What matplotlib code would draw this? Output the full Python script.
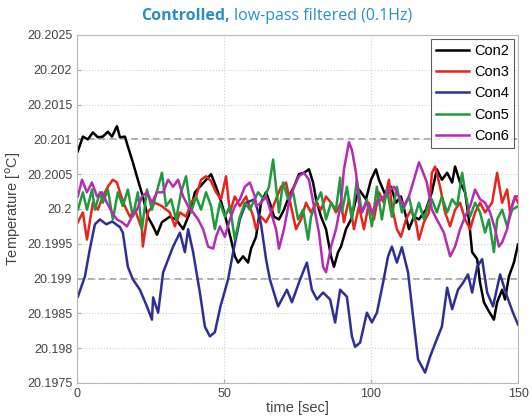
import matplotlib
matplotlib.use("Agg")
import matplotlib.pyplot as plt

# time axis in seconds, temperatures in deg C
con2_t = [0.3, 2.0, 3.7, 5.4, 7.1, 8.8, 10.5, 11.9, 13.6, 14.6, 16.3, 17.3, 19.0, 20.7, 22.4,
          24.1, 25.9, 27.2, 28.9, 31.6, 33.7, 36.1, 38.4, 40.1, 41.8, 43.5, 45.6, 47.3, 49.0,
          50.7, 52.4, 53.7, 54.8, 56.5, 58.2, 59.2, 60.9, 62.6, 64.3, 66.0, 67.0, 68.7, 70.4,
          72.1, 73.8, 75.5, 77.2, 78.9, 80.3, 81.3, 83.0, 84.7, 86.4, 87.4, 88.8, 89.8, 91.5,
          93.2, 94.9, 95.9, 98.3, 100.0, 101.7, 102.7, 105.1, 106.8, 108.5, 110.2, 111.9,
          112.9, 114.6, 116.3, 118.7, 120.7, 122.4, 124.1, 125.9, 127.6, 128.6, 130.3, 132.0,
          133.3, 134.4, 136.1, 137.1, 138.4, 140.1, 141.8, 142.9, 144.6, 145.6, 146.9, 148.6,
          150.0]
con2_v = [20.20083, 20.20104, 20.20100, 20.20110, 20.20103, 20.20104, 20.20111, 20.20104,
          20.20119, 20.20103, 20.20104, 20.20090, 20.20067, 20.20042, 20.20018, 20.19989,
          20.19975, 20.19963, 20.19981, 20.19989, 20.19985, 20.19971, 20.19995, 20.20024,
          20.20032, 20.20040, 20.20050, 20.20032, 20.20011, 20.19985, 20.19956, 20.19932,
          20.19923, 20.19932, 20.19923, 20.19943, 20.19960, 20.20009, 20.20024, 20.20004,
          20.19989, 20.19985, 20.19999, 20.20018, 20.20032, 20.20050, 20.20052, 20.20057,
          20.20038, 20.20014, 20.19989, 20.19971, 20.19932, 20.19917, 20.19938, 20.19946,
          20.19971, 20.19985, 20.20014, 20.20028, 20.20014, 20.20042, 20.20057, 20.20042,
          20.20018, 20.20032, 20.20009, 20.20018, 20.19989, 20.19971, 20.19989, 20.19985,
          20.19999, 20.20024, 20.20057, 20.20042, 20.20052, 20.20038, 20.20061, 20.20038,
          20.20024, 20.19985, 20.19938, 20.19928, 20.19894, 20.19866, 20.19853, 20.19841,
          20.19866, 20.19884, 20.19870, 20.19903, 20.19923, 20.19949]

con3_t = [0.3, 2.0, 3.4, 5.4, 7.1, 8.8, 10.5, 12.2, 13.6, 14.6, 16.3, 18.0, 19.7, 22.1, 22.4,
          24.1, 26.5, 28.9, 31.6, 33.3, 35.0, 37.1, 38.8, 40.5, 42.2, 43.9, 45.6, 47.3, 49.0,
          50.7, 52.0, 53.7, 55.4, 57.5, 59.9, 60.9, 62.6, 64.3, 66.0, 67.7, 69.4, 71.1, 72.8,
          74.5, 76.2, 77.9, 79.6, 81.3, 83.0, 84.7, 86.4, 88.1, 89.8, 90.8, 92.5, 94.2, 95.9,
          97.6, 99.3, 101.0, 102.7, 104.4, 106.1, 107.1, 108.8, 110.2, 111.9, 113.6, 115.3,
          116.3, 118.0, 119.7, 120.7, 121.8, 123.5, 125.2, 126.9, 128.6, 130.3, 132.0, 133.7,
          135.4, 137.1, 138.8, 141.2, 142.9, 144.6, 146.3, 147.3, 149.0, 150.0]
con3_v = [20.19981, 20.19995, 20.19956, 20.20009, 20.19999, 20.20018, 20.20032, 20.20042,
          20.20038, 20.20024, 20.20004, 20.19989, 20.19999, 20.19971, 20.19946, 20.19995,
          20.20009, 20.20004, 20.19995, 20.19975, 20.19995, 20.19989, 20.20009, 20.20018,
          20.20042, 20.20047, 20.20040, 20.20024, 20.20014, 20.20047, 20.19995, 20.20018,
          20.20004, 20.20018, 20.19990, 20.19971, 20.19989, 20.19981, 20.19995, 20.20014,
          20.20032, 20.20038, 20.20004, 20.19971, 20.19985, 20.20009, 20.19995, 20.20009,
          20.19999, 20.20018, 20.20009, 20.19995, 20.20009, 20.19981, 20.20014, 20.19971,
          20.20004, 20.19971, 20.20009, 20.19985, 20.20024, 20.20009, 20.20042, 20.20004,
          20.19971, 20.19960, 20.19985, 20.19999, 20.19981, 20.19956, 20.19981, 20.19995,
          20.20052, 20.20061, 20.20032, 20.19995, 20.19975, 20.19999, 20.20009, 20.19985,
          20.19971, 20.19995, 20.20009, 20.19995, 20.20009, 20.20052, 20.20009, 20.20028,
          20.19995, 20.20018, 20.20009]

con4_t = [0.3, 2.7, 4.4, 6.1, 7.8, 10.0, 12.0, 14.6, 15.6, 17.3, 19.0, 21.4, 23.8, 25.5, 25.9,
          27.6, 29.3, 32.7, 35.0, 36.7, 37.8, 39.5, 41.8, 43.5, 45.2, 46.9, 48.8, 51.4, 53.1,
          55.4, 57.5, 60.5, 62.6, 64.3, 65.6, 68.4, 71.4, 73.1, 75.9, 78.2, 79.9, 81.6, 83.7,
          86.1, 87.8, 89.5, 91.8, 93.5, 94.6, 96.3, 98.6, 100.3, 102.0, 104.1, 105.8, 107.1,
          108.8, 110.5, 112.6, 114.3, 116.0, 118.4, 120.1, 122.4, 124.1, 125.9, 127.6, 129.6,
          131.3, 133.0, 134.4, 136.1, 137.8, 139.5, 141.5, 143.9, 146.3, 148.3, 150.0]
con4_v = [20.19874, 20.19903, 20.19943, 20.19978, 20.19985, 20.19978, 20.19982, 20.19974,
          20.19966, 20.19917, 20.19899, 20.19884, 20.19860, 20.19841, 20.19873, 20.19851,
          20.19909, 20.19946, 20.19966, 20.19938, 20.19971, 20.19938, 20.19880, 20.19831,
          20.19817, 20.19823, 20.19860, 20.19899, 20.19938, 20.19985, 20.20009, 20.20014,
          20.19978, 20.19928, 20.19899, 20.19860, 20.19884, 20.19866, 20.19899, 20.19923,
          20.19884, 20.19870, 20.19880, 20.19870, 20.19837, 20.19884, 20.19874, 20.19817,
          20.19802, 20.19808, 20.19851, 20.19837, 20.19851, 20.19894, 20.19932, 20.19946,
          20.19923, 20.19945, 20.19909, 20.19846, 20.19784, 20.19765, 20.19788, 20.19813,
          20.19831, 20.19887, 20.19856, 20.19884, 20.19894, 20.19906, 20.19880, 20.19917,
          20.19928, 20.19880, 20.19860, 20.19906, 20.19874, 20.19851, 20.19834]

con5_t = [0.3, 2.0, 3.4, 5.1, 6.1, 7.8, 8.8, 10.5, 12.2, 13.9, 15.6, 17.3, 19.0, 20.7, 22.1,
          23.8, 25.5, 27.6, 28.9, 30.3, 32.0, 33.7, 35.4, 37.1, 38.8, 40.5, 42.2, 43.9, 45.6,
          46.9, 48.6, 50.3, 52.0, 53.7, 55.4, 57.1, 58.8, 61.6, 63.6, 65.3, 66.7, 67.7, 68.7,
          70.1, 71.8, 73.5, 75.2, 76.9, 78.6, 79.6, 81.3, 83.0, 84.7, 86.4, 88.1, 89.5, 90.1,
          91.8, 93.5, 95.2, 96.9, 98.6, 100.3, 102.0, 103.7, 105.4, 107.1, 108.8, 110.5, 112.9,
          114.6, 116.3, 118.0, 119.7, 120.7, 122.4, 124.1, 125.9, 127.6, 129.3, 131.0, 132.0,
          133.7, 135.4, 137.1, 138.8, 140.1, 141.8, 142.9, 144.6, 146.3, 148.0, 150.0]
con5_v = [20.19999, 20.20024, 20.19999, 20.20028, 20.19999, 20.20024, 20.20009, 20.20028,
          20.19985, 20.20024, 20.20004, 20.20028, 20.19989, 20.20024, 20.19971, 20.20028,
          20.19999, 20.20032, 20.20052, 20.20004, 20.20014, 20.19985, 20.20024, 20.20047,
          20.19995, 20.20018, 20.19999, 20.20024, 20.20004, 20.19971, 20.20009, 20.19989,
          20.20004, 20.19956, 20.19989, 20.20009, 20.19999, 20.20024, 20.20014, 20.20032,
          20.20071, 20.20032, 20.19995, 20.20038, 20.20014, 20.20024, 20.19985, 20.19999,
          20.19956, 20.19989, 20.20009, 20.20024, 20.19985, 20.20009, 20.19999, 20.20045,
          20.19995, 20.20032, 20.19985, 20.20042, 20.19995, 20.20014, 20.19975, 20.20032,
          20.19985, 20.20028, 20.19989, 20.20032, 20.19995, 20.20018, 20.19985, 20.20009,
          20.19985, 20.20009, 20.20014, 20.19995, 20.20018, 20.19995, 20.20014, 20.20004,
          20.20052, 20.20024, 20.19989, 20.20009, 20.19995, 20.19966, 20.19985, 20.19938,
          20.19985, 20.19999, 20.19975, 20.19999, 20.20004]

con6_t = [0.3, 1.7, 3.4, 5.1, 6.8, 8.5, 10.2, 11.9, 13.6, 15.3, 17.0, 18.7, 20.4, 22.1, 23.8,
          25.5, 27.2, 29.3, 31.0, 32.7, 34.4, 36.1, 37.8, 39.5, 41.2, 42.9, 44.6, 46.3, 47.3,
          48.6, 50.3, 52.0, 53.7, 55.4, 57.1, 58.8, 60.5, 60.9, 62.6, 64.3, 66.0, 67.7, 68.7,
          70.4, 72.1, 73.8, 75.5, 77.2, 78.9, 80.6, 82.3, 83.7, 84.7, 86.4, 88.1, 89.8, 90.8,
          92.5, 93.5, 94.9, 95.9, 96.9, 98.6, 100.3, 102.0, 103.7, 105.4, 107.8, 109.5, 111.2,
          112.9, 114.6, 116.3, 117.3, 119.0, 120.7, 122.4, 124.8, 126.9, 128.6, 130.3, 132.0,
          133.7, 135.4, 137.1, 138.8, 140.5, 142.2, 143.5, 144.6, 146.3, 147.3, 149.0, 150.0]
con6_v = [20.20018, 20.20042, 20.20024, 20.20038, 20.20018, 20.20024, 20.20009, 20.19995,
          20.19985, 20.19981, 20.19975, 20.19989, 20.19999, 20.20018, 20.20024, 20.20009,
          20.20024, 20.20024, 20.20042, 20.20032, 20.20042, 20.20018, 20.20004, 20.19995,
          20.19985, 20.19971, 20.19946, 20.19943, 20.19960, 20.19975, 20.19960, 20.19985,
          20.20004, 20.20014, 20.20032, 20.20038, 20.20018, 20.20004, 20.20009, 20.20018,
          20.19995, 20.19971, 20.19943, 20.19971, 20.20009, 20.20032, 20.20047, 20.20052,
          20.20042, 20.20004, 20.19966, 20.19917, 20.19909, 20.19946, 20.19971, 20.20009,
          20.20057, 20.20096, 20.20085, 20.20052, 20.20009, 20.19995, 20.20009, 20.19995,
          20.20009, 20.20014, 20.20024, 20.20032, 20.20018, 20.20004, 20.20018, 20.20042,
          20.20067, 20.20057, 20.20038, 20.19999, 20.19985, 20.19966, 20.19932, 20.19946,
          20.19971, 20.19989, 20.20004, 20.20028, 20.20014, 20.20009, 20.19995, 20.19971,
          20.19946, 20.19952, 20.19971, 20.19995, 20.20018, 20.20018]

series = [
    ("Con2", con2_t, con2_v, "#000000"),
    ("Con3", con3_t, con3_v, "#e8241c"),
    ("Con4", con4_t, con4_v, "#2e2e96"),
    ("Con5", con5_t, con5_v, "#1f9a3c"),
    ("Con6", con6_t, con6_v, "#b42cb4"),
]

y_ticks = [20.1975, 20.198, 20.1985, 20.199, 20.1995, 20.2, 20.2005, 20.201, 20.2015, 20.202, 20.2025]
y_labels = ["20.1975", "20.198", "20.1985", "20.199", "20.1995", "20.2", "20.2005", "20.201",
            "20.2015", "20.202", "20.2025"]
x_ticks = [0, 50, 100, 150]
ref_levels = [20.199, 20.201]

plt.rcParams['font.family'] = ['Liberation Sans', 'DejaVu Sans']

fig = plt.figure(figsize=(5.32, 4.2), dpi=100)
ax = fig.add_axes([0.1447, 0.0881, 0.829, 0.8286])

for name, t, v, c in series:
    ax.plot(t, v, color=c, lw=1.8, label=name)

for lvl in ref_levels:
    ax.axhline(lvl, color="#9a9a9a", lw=1.2, ls=(0, (4, 2.5)), zorder=0.5)

ax.set_xlim(0, 150)
ax.set_ylim(20.1975, 20.2025)
ax.set_xticks(x_ticks)
ax.set_yticks(y_ticks)
ax.set_yticklabels(y_labels)
ax.grid(True, color="#d0d0d0", ls=":", lw=0.8)
ax.set_axisbelow(True)
ax.tick_params(direction="in", length=3, colors="#b0b0b0", labelcolor="#444444", labelsize=9)
for sp in ax.spines.values():
    sp.set_color("#b8b8b8")

ax.set_xlabel("time [sec]", fontsize=10.5, color="#444444", labelpad=1)
ax.set_ylabel("Temperature [$^\\mathrm{o}$C]", fontsize=10.5, color="#444444", labelpad=3)

leg = ax.legend(loc="upper right", fontsize=10.5, handlelength=2.2, frameon=True, fancybox=False,
                borderpad=0.35, labelspacing=0.5, handletextpad=0.4, borderaxespad=0.25)
leg.get_frame().set_edgecolor("#333333")
leg.get_frame().set_linewidth(0.8)

# two-part title: bold lead word, regular remainder
title_color = "#2a8ec6"
t1 = fig.text(0.265, 0.962, "Controlled,", fontsize=11.5, fontweight="bold", color=title_color,
              family=["Open Sans", "DejaVu Sans"], va="center", ha="left")
fig.canvas.draw()
bb = t1.get_window_extent()
x2 = fig.transFigure.inverted().transform((bb.x1 + 4, 0))[0]
fig.text(x2, 0.962, "low-pass filtered (0.1Hz)", fontsize=11.5, color=title_color,
         family=["Open Sans", "DejaVu Sans"], va="center", ha="left")

fig.savefig("out.png", dpi=100)
